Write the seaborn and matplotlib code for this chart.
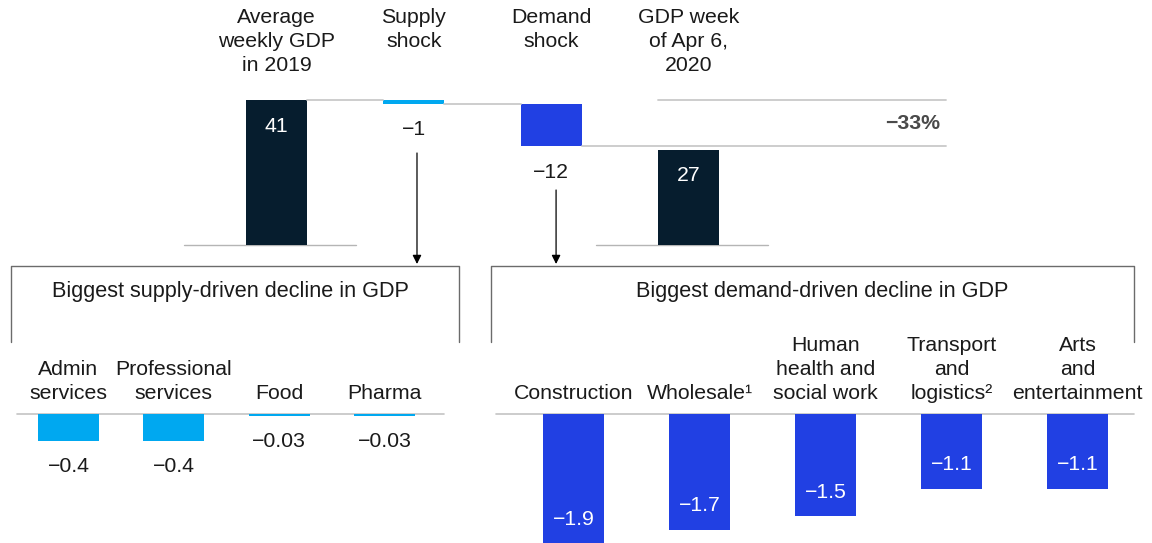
import matplotlib
matplotlib.use("Agg")
import matplotlib.pyplot as plt
import seaborn as sns
from matplotlib.lines import Line2D

# waterfall, billions per week
steps = ["Average\nweekly GDP\nin 2019", "Supply\nshock", "Demand\nshock", "GDP week\nof Apr 6,\n2020"]
step_values = [41, -1, -12, 27]
total_change_label = "\u221233%"

supply_sectors = ["Admin\nservices", "Professional\nservices", "Food", "Pharma"]
supply_values = [-0.4, -0.4, -0.03, -0.03]

demand_sectors = ["Construction", "Wholesale\u00b9", "Human\nhealth and\nsocial work",
                  "Transport\nand\nlogistics\u00b2", "Arts\nand\nentertainment"]
demand_values = [-1.9, -1.7, -1.5, -1.1, -1.1]

NAVY = "#061d2e"
LIGHT_BLUE = "#00a8f0"
BLUE = "#2140e3"
GRID = "#c9c9c9"
BOX = "#6b6b6b"
TEXT = "#1a1a1a"
FS = 15.3
LS = 1.33

W, H = 1152, 543

sns.set_style("white")
plt.rcParams["font.family"] = ["Liberation Sans", "DejaVu Sans"]


def fmt(v):
    return f"{v:g}".replace("-", "\u2212")


def px_axes(fig, left, right, top, bottom):
    # axes placed by pixel box (y measured from the top of the image)
    return fig.add_axes([left / W, (H - bottom) / H, (right - left) / W, (bottom - top) / H])


def px_line(fig, xs, ys, **kw):
    fig.add_artist(Line2D([x / W for x in xs], [(H - y) / H for y in ys],
                          transform=fig.transFigure, **kw))


fig = plt.figure(figsize=(W / 100, H / 100), dpi=100)

# ---- top waterfall ----
ax = px_axes(fig, 184, 946, 86, 245)
bottoms = [0]
level = step_values[0]
for v in step_values[1:-1]:
    bottoms.append(level)
    level += v
bottoms.append(0)
heights = step_values
colors = [NAVY, LIGHT_BLUE, BLUE, NAVY]
bw = 0.444
sns.barplot(x=list(range(len(steps))), y=heights, bottom=bottoms, width=bw,
            errorbar=None, color=NAVY, saturation=1, linewidth=0, ax=ax, native_scale=True)
for p, c in zip(ax.patches, colors):
    p.set_facecolor(c)
x_end = 4.876
ax.set_xlim(-0.674, x_end)
ax.set_ylim(0, 45)
ax.axis("off")

# baselines under the totals
for i in (0, len(steps) - 1):
    ax.plot([i - 0.674, i + 0.579], [0, 0], color="#b5b5b5", lw=1.0, clip_on=False, zorder=0.5)
# connectors
lvl = step_values[0]
for i in range(1, len(steps) - 1):
    ax.plot([i - 1 + bw / 2, i - bw / 2], [lvl, lvl], color=GRID, lw=1.3, clip_on=False)
    lvl += step_values[i]
ax.plot([len(steps) - 2 + bw / 2, x_end], [lvl, lvl], color=GRID, lw=1.3, clip_on=False)
ax.plot([len(steps) - 1 - bw / 2, x_end], [step_values[0], step_values[0]], color=GRID, lw=1.3,
        clip_on=False)
ax.annotate(total_change_label, xy=(x_end, (step_values[0] + lvl) / 2), xytext=(-6, 0),
            textcoords="offset pixels", ha="right", va="center", fontsize=FS,
            fontweight="bold", color="#4a4a4a")

for i, (name, v, b) in enumerate(zip(steps, step_values, bottoms)):
    ax.annotate(name, xy=(i, H - 8), xycoords=("data", "figure pixels"), ha="center",
                va="top", fontsize=FS, color=TEXT, linespacing=LS)
    if i in (0, len(steps) - 1):
        ax.annotate(fmt(v), xy=(i, b + v), xytext=(0, -26), textcoords="offset pixels",
                    ha="center", va="center", fontsize=FS, color="white")
    else:
        ax.annotate(fmt(v), xy=(i, b + v), xytext=(0, -26), textcoords="offset pixels",
                    ha="center", va="center", fontsize=FS, color=TEXT)

# arrows down to the sector boxes
for xa, ystart in ((1.023, H - 153), (2.036, H - 190)):
    ax.annotate("", xy=(xa, H - 264), xycoords=("data", "figure pixels"),
                xytext=(xa, ystart), textcoords=("data", "figure pixels"),
                arrowprops=dict(arrowstyle="-|>", color="black", lw=0.9,
                                mutation_scale=13, shrinkA=0, shrinkB=0))

# ---- boxes ----
for l, r in ((11, 459), (491, 1134)):
    px_line(fig, [l, l, r, r], [342, 266, 266, 342], color=BOX, lw=1.0)
fig.text(230 / W, (H - 291) / H, "Biggest supply-driven decline in GDP", ha="center",
         va="center", fontsize=FS + 0.3, color=TEXT)
fig.text(822 / W, (H - 291) / H, "Biggest demand-driven decline in GDP", ha="center",
         va="center", fontsize=FS + 0.3, color=TEXT)

PX_PER_UNIT = 68.0
ymin = -(H - 414) / PX_PER_UNIT


def sector_panel(ax, names, values, color, width, xlim, inside):
    sns.barplot(x=list(range(len(names))), y=values, width=width, errorbar=None,
                color=color, saturation=1, linewidth=0, ax=ax, native_scale=True)
    ax.set_xlim(*xlim)
    ax.set_ylim(ymin, 0)
    ax.axis("off")
    ax.plot(list(xlim), [0, 0], color="#c4c4c4", lw=1.2, clip_on=False, zorder=0.5)
    for i, (n, v) in enumerate(zip(names, values)):
        ax.annotate(n, xy=(i, 0), xytext=(0, 11), textcoords="offset pixels", ha="center",
                    va="bottom", fontsize=FS, color=TEXT, linespacing=LS,
                    annotation_clip=False)
        if inside:
            ax.annotate(fmt(v), xy=(i, v), xytext=(0, 24), textcoords="offset pixels",
                        ha="center", va="center", fontsize=FS, color="white")
        else:
            ax.annotate(fmt(v), xy=(i, v), xytext=(0, -25), textcoords="offset pixels",
                        ha="center", va="center", fontsize=FS, color=TEXT)


ax_s = px_axes(fig, 17, 444, 414, H)
sector_panel(ax_s, supply_sectors, supply_values, LIGHT_BLUE, 0.58, (-0.489, 3.566), False)

ax_d = px_axes(fig, 496, 1134, 414, H)
sector_panel(ax_d, demand_sectors, demand_values, BLUE, 0.484, (-0.615, 4.448), True)

fig.savefig("out.png", dpi=100, facecolor="white")
